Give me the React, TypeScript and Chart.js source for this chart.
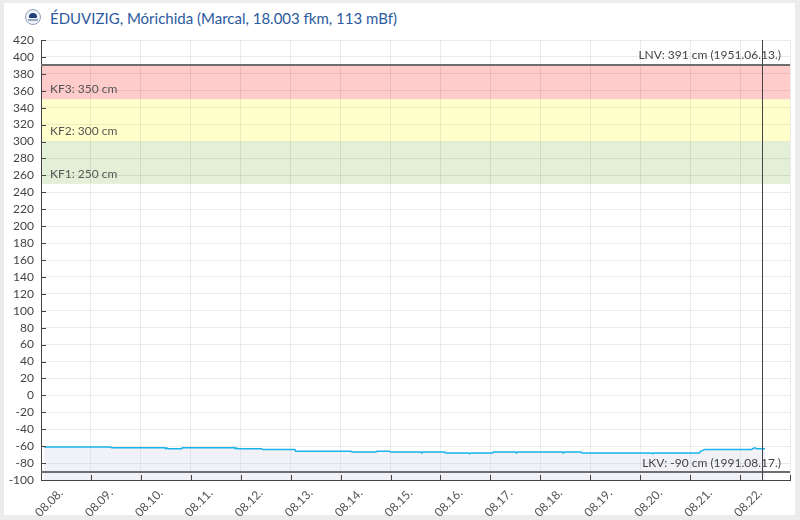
import React, { useEffect, useRef } from "react";
import { Chart, registerables } from "chart.js";

Chart.register(...registerables);

const TITLE = "ÉDUVIZIG, Mórichida (Marcal, 18.003 fkm, 113 mBf)";

// day tick labels (every 24 h from 08.08. 00:00)
const DAY_LABELS = [
  "08.08.", "08.09.", "08.10.", "08.11.", "08.12.", "08.13.", "08.14.", "08.15.",
  "08.16.", "08.17.", "08.18.", "08.19.", "08.20.", "08.21.", "08.22.",
];

// measurement times (hours since 08.08. 00:00) and water levels (cm)
const HOURS = [
  1.5, 33.5, 34, 59.5, 60, 60.5, 61, 67.5, 68, 93, 93.5, 94, 94.5, 106, 106.5, 122,
  122.5, 149, 149.5, 161, 161.5, 167.5, 168, 182.5, 183, 183.5, 194, 194.5, 205.5,
  206, 206.5, 217, 217.5, 228, 228.5, 229, 250.5, 251, 251.5, 259.5, 260, 293.5, 294,
  294.5, 316.5, 317, 319, 341.5, 342, 343, 344, 348,
];
const LEVELS = [
  -61, -61, -62, -62, -63, -62, -63, -63, -62, -62, -63, -62, -63, -63, -64, -64,
  -66, -66, -67, -67, -66, -66, -67, -67, -68, -67, -67, -68, -68,
  -69, -68, -68, -67, -67, -68, -67, -67, -68, -67, -67, -68, -68, -69,
  -68, -68, -66, -64, -64, -63, -62, -63, -63,
];

// alert levels
const KF_LEVELS = [250, 300, 350];
const KF_LABELS = ["KF1: 250 cm", "KF2: 300 cm", "KF3: 350 cm"];
const KF_COLORS = ["#e3efd6", "#ffffcc", "#ffcccc"];
const LNV_LEVEL = 391;
const LNV_LABEL = "LNV: 391 cm (1951.06.13.)";
const LKV_LEVEL = -90;
const LKV_LABEL = "LKV: -90 cm (1991.08.17.)";
const NOW_HOUR = 346.4;

const Y_MIN = -100;
const Y_MAX = 420;
const X_MAX = 360;

const FONT = "Lato";

const decorPlugin = {
  id: "decor",
  beforeDraw(chart: any) {
    const { ctx, chartArea: a, scales } = chart;
    const y = scales.y;
    ctx.save();
    const bounds = [KF_LEVELS[0], KF_LEVELS[1], KF_LEVELS[2], LNV_LEVEL];
    for (let i = 0; i < 3; i++) {
      const top = y.getPixelForValue(bounds[i + 1]);
      const bot = y.getPixelForValue(bounds[i]);
      ctx.fillStyle = KF_COLORS[i];
      ctx.fillRect(a.left, top, a.right - a.left, bot - top);
    }
    ctx.restore();
  },
  afterDatasetsDraw(chart: any) {
    const { ctx, chartArea: a, scales } = chart;
    const x = scales.x;
    const y = scales.y;
    ctx.save();
    // KF labels
    ctx.font = `12px ${FONT}`;
    ctx.fillStyle = "#555";
    ctx.textAlign = "left";
    ctx.textBaseline = "middle";
    KF_LEVELS.forEach((v, i) => {
      ctx.fillText(KF_LABELS[i], a.left + 9, y.getPixelForValue(v) - 10);
    });
    // LNV / LKV lines
    ctx.strokeStyle = "#6e6e6e";
    ctx.lineWidth = 2;
    [LNV_LEVEL, LKV_LEVEL].forEach((v) => {
      const py = Math.round(y.getPixelForValue(v));
      ctx.beginPath();
      ctx.moveTo(a.left, py);
      ctx.lineTo(a.right, py);
      ctx.stroke();
    });
    ctx.fillStyle = "#444";
    ctx.textAlign = "right";
    ctx.textBaseline = "bottom";
    ctx.fillText(LNV_LABEL, a.right - 9, y.getPixelForValue(LNV_LEVEL) - 3);
    ctx.fillText(LKV_LABEL, a.right - 9, y.getPixelForValue(LKV_LEVEL) - 2);
    // now line
    const nx = Math.round(x.getPixelForValue(NOW_HOUR)) + 0.5;
    ctx.strokeStyle = "#444";
    ctx.lineWidth = 1;
    ctx.beginPath();
    ctx.moveTo(nx, a.top);
    ctx.lineTo(nx, a.bottom);
    ctx.stroke();
    ctx.restore();
  },
  afterDraw(chart: any) {
    const { ctx, chartArea: a, scales } = chart;
    const x = scales.x;
    const y = scales.y;
    ctx.save();
    ctx.strokeStyle = "#444";
    ctx.lineWidth = 1;
    ctx.beginPath();
    y.ticks.forEach((t: any) => {
      const py = Math.round(y.getPixelForValue(t.value)) + 0.5;
      ctx.moveTo(a.left, py);
      ctx.lineTo(a.left + 5, py);
    });
    x.ticks.forEach((t: any) => {
      const px = Math.round(x.getPixelForValue(t.value)) + 0.5;
      ctx.moveTo(px, a.bottom);
      ctx.lineTo(px, a.bottom - 5);
    });
    ctx.stroke();
    ctx.restore();
  },
};

function ChartCanvas() {
  const ref = useRef<HTMLCanvasElement | null>(null);
  useEffect(() => {
    if (!ref.current) return;
    const points = HOURS.map((h, i) => ({ x: h, y: LEVELS[i] }));
    const chart = new Chart(ref.current, {
      type: "line",
      data: {
        datasets: [
          {
            data: points,
            borderColor: "#18b4ea",
            borderWidth: 1.5,
            backgroundColor: "rgba(200,205,225,0.25)",
            fill: "start",
            pointRadius: 0,
            tension: 0,
          },
        ],
      },
      options: {
        animation: false,
        responsive: false,
        events: [],
        layout: { padding: { top: 40, right: 10, left: 0, bottom: 0 } },
        plugins: { legend: { display: false }, tooltip: { enabled: false } },
        scales: {
          x: {
            type: "linear",
            min: 0,
            max: X_MAX,
            afterFit: (s: any) => {
              s.height = 40;
              s.paddingLeft = 0;
              s.paddingRight = 0;
            },
            ticks: {
              stepSize: 24,
              autoSkip: false,
              minRotation: 45,
              maxRotation: 45,
              padding: 6,
              labelOffset: 20,
              color: "#555",
              font: { family: FONT, size: 12 },
              callback: (v: any) => {
                const i = Math.round(Number(v) / 24);
                return DAY_LABELS[i] ?? "";
              },
            },
            grid: { color: "rgba(0,0,0,0.08)", drawTicks: false },
            border: { color: "#444", width: 1 },
          },
          y: {
            min: Y_MIN,
            max: Y_MAX,
            afterFit: (s: any) => {
              s.width = 41;
              s.paddingTop = 0;
              s.paddingBottom = 0;
            },
            ticks: {
              stepSize: 20,
              autoSkip: false,
              padding: 7,
              color: "#444",
              font: { family: FONT, size: 12 },
            },
            grid: { color: "rgba(0,0,0,0.08)", drawTicks: false },
            border: { color: "#444", width: 1 },
          },
        },
      },
      plugins: [decorPlugin],
    } as any);
    return () => chart.destroy();
  }, []);
  return (
    <canvas
      ref={ref}
      width={800}
      height={520}
      style={{ position: "absolute", left: 0, top: 0, width: 800, height: 520 }}
    />
  );
}

export default function App() {
  useEffect(() => {
    document.body.style.margin = "0";
    document.body.style.background = "#ececec";
  }, []);
  return (
    <div style={{ position: "relative", width: 800, height: 520, background: "#ececec", overflow: "hidden" }}>
      <div style={{ position: "absolute", left: 4, top: 3, width: 791, height: 512, background: "#fff" }} />
      <div
        style={{
          position: "absolute",
          left: 25,
          top: 9,
          width: 14,
          height: 14,
          borderRadius: "50%",
          border: "1px solid #8fa3c0",
          background: "#eef2f8",
        }}
      >
        <div
          style={{
            position: "absolute",
            left: 3,
            top: 3,
            width: 8,
            height: 5,
            borderRadius: "4px 4px 1px 1px",
            background: "#1f3f78",
          }}
        />
        <div
          style={{ position: "absolute", left: 2, top: 9, width: 10, height: 2, background: "#9aaac4" }}
        />
      </div>
      <div
        style={{
          position: "absolute",
          left: 50,
          top: 8,
          fontFamily: FONT,
          fontSize: 15,
          lineHeight: "20px",
          color: "#2c5a9e",
          whiteSpace: "nowrap",
        }}
      >
        {TITLE}
      </div>
      <ChartCanvas />
    </div>
  );
}
